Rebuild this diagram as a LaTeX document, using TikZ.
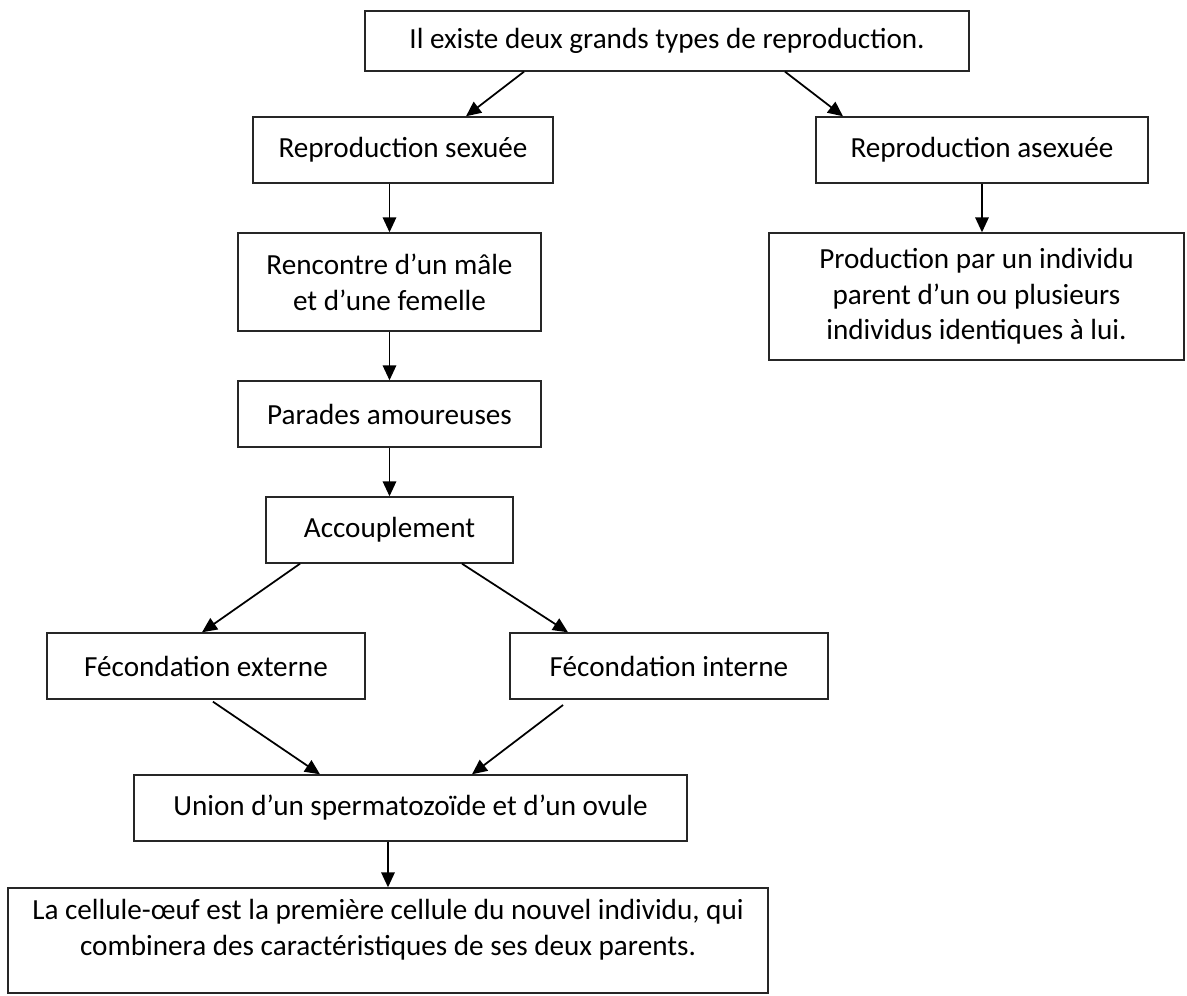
\documentclass[tikz,border=0pt]{standalone}
\usepackage{fontspec}
\setmainfont{Carlito}
\usepackage{tikz}
\usetikzlibrary{arrows.meta,positioning}
\tikzset{box style/.style={draw=black!85,line width=0.8pt,inner sep=0pt,align=center,font=\fontsize{16.6}{20.3}\selectfont},
	arr style/.style={line width=1pt,arrows = {-Triangle[length=0.3cm, width=0.27cm]}}}

\begin{document}
\begin{tikzpicture}[x=0.02cm,y=-0.02cm]
	\useasboundingbox (0,0) rectangle (1187,996);
	
	\node[box style,minimum width=12.08cm,minimum height=1.2cm] (top) at (667,41) {Il existe deux grands types de reproduction.};
	
	\node[box style,minimum width=6cm,minimum height=1.32cm] (sex) at (403,150) {Reproduction sexuée};
	\node[box style,minimum width=6.64cm,minimum height=1.32cm] (asex) at (982,150) {Reproduction asexuée};
	
	\node[box style,minimum width=6.06cm,minimum height=1.96cm] (renc) at (389.5,282) {Rencontre d’un mâle\\et d’une femelle};
	\node[box style,minimum width=8.3cm,minimum height=2.54cm] (prod) at (976.5,296.5) {Production par un individu\\parent d’un ou plusieurs\\individus identiques à lui.};
	
	\node[box style,minimum width=6.06cm,minimum height=1.32cm] (par) at (389.5,414) {Parades amoureuses};
	\node[box style,minimum width=4.94cm,minimum height=1.32cm] (acc) at (389.5,530) {Accouplement};
	
	\node[box style,minimum width=6.36cm,minimum height=1.32cm] (fext) at (206,666) {Fécondation externe};
	\node[box style,minimum width=6.36cm,minimum height=1.32cm] (fint) at (669,666) {Fécondation interne};
	
	\node[box style,minimum width=11.06cm,minimum height=1.32cm] (union) at (410.5,808) {Union d’un spermatozoïde et d’un ovule};
	\node[box style,minimum width=15.2cm,minimum height=2.1cm,text depth=0.53cm] (oeuf) at (388,940.5) {La cellule-œuf est la première cellule du nouvel individu, qui\\combinera des caractéristiques de ses deux parents.};
	
	% fleches
	\draw[arr style] (top.south -| 524,0) -- (sex.north -| 466,0);
	\draw[arr style] (top.south -| 785,0) -- (asex.north -| 843,0);
	
	\draw[arr style] (sex.south -| renc.north) -- (renc.north);
	\draw[arr style] (asex.south) -- (prod.north -| asex.south);
	\draw[arr style] (renc) -- (par);
	\draw[arr style] (par) -- (acc);
	
	\draw[arr style] (acc.south -| 300,0) -- (fext.north -| 202,0);
	\draw[arr style] (acc.south -| 462,0) -- (fint.north -| 568,0);
	
	\draw[arr style,shorten <=2pt] (fext.south -| 210,0) -- (union.north -| 320,0);
	\draw[arr style,shorten <=5pt] (fint.south -| 570,0) -- (union.north -| 472,0);
	
	\draw[arr style] (union.south -| oeuf.north) -- (oeuf.north);
\end{tikzpicture}
\end{document}
